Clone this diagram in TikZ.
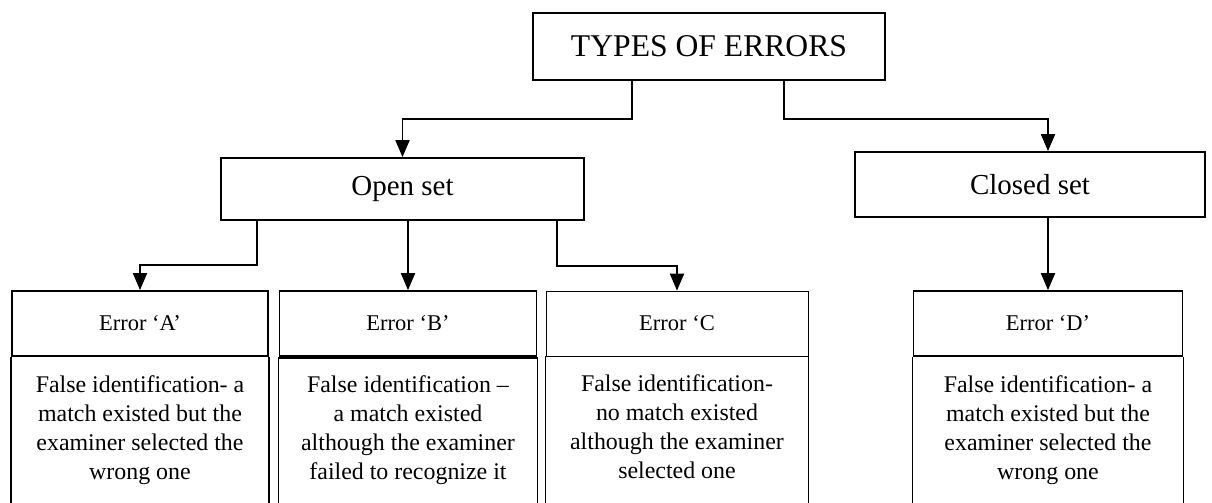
\documentclass[tikz,border=0pt]{standalone}
\usepackage{fontspec}
\setmainfont{Liberation Serif}
\usetikzlibrary{arrows.meta,positioning,calc}

\begin{document}
\begin{tikzpicture}[x=0.025cm, y=-0.025cm,
        box/.style={draw, line width=1.3pt, inner sep=0pt, align=center},
        arr/.style={-{Triangle[width=10pt,length=12pt]}, line width=1.1pt},
        bodytext/.style={inner sep=0pt, align=center,
            font=\fontsize{17}{20.6}\selectfont}]

        \clip (0,0) rectangle (1212,503);

        % Top box
        \node[box, minimum width=8.8cm, minimum height=1.675cm,
            font=\fontsize{22.5}{27}\selectfont] (Types) at (709,46.5) {TYPES OF ERRORS};

        % Second level
        \node[box, minimum width=9.075cm, minimum height=1.55cm,
            font=\fontsize{20.6}{24}\selectfont] (Open) at (402.5,189) {Open set};
        \node[box, minimum width=8.75cm, minimum height=1.625cm,
            font=\fontsize{20.6}{24}\selectfont] (Closed) at (1030,184.5) {Closed set};

        % Error boxes
        \foreach \n/\x/\w/\lw/\head/\txt in {
            A/140/6.4cm/1.3pt/{Error `A'}/{False identification- a\\ match existed but the\\ examiner selected the\\ wrong one},
            B/408/6.425cm/1.3pt/{Error `B'}/{False identification --\\ a match existed\\ although the examiner\\ failed to recognize it},
            C/677/6.55cm/0.6pt/{Error `C}/{False identification-\\ no match existed\\ although the examiner\\ selected one},
            D/1048/6.725cm/1.3pt/{Error `D'}/{False identification- a\\ match existed but the\\ examiner selected the\\ wrong one}}
        {
            \node[box, line width=\lw, minimum width=\w, minimum height=1.625cm,
                font=\fontsize{16}{19}\selectfont] (Head-\n) at (\x,323.5) {\head};
            \node[bodytext, below=13pt of Head-\n] (Body-\n) {\txt};
            \draw[line width=\lw] (Head-\n.south west) -- ++(0,200);
            \draw[line width=\lw] (Head-\n.south east) -- ++(0,200);
        }
        \draw[line width=2.4pt] (Head-B.south west) -- (Head-B.south east);

        % Types to sets
        \draw[arr] ($(Types.south)+(-77,0)$) -- ++(0,38) -| (Open.north);
        \draw[arr] ($(Types.south)+(75,0)$) -- ++(0,38) -| (Closed.north -| Head-D.north);

        % Open set to errors
        \draw[arr] ($(Open.south west)+(37,0)$) -- ++(0,44) -| (Head-A.north);
        \draw[arr] (Open.south -| Head-B.north) -- (Head-B.north);
        \draw[arr] ($(Open.south west)+(337,0)$) -- ++(0,45) -| (Head-C.north);

        % Closed set to error D
        \draw[arr] (Closed.south -| Head-D.north) -- (Head-D.north);

    \end{tikzpicture}
\end{document}
